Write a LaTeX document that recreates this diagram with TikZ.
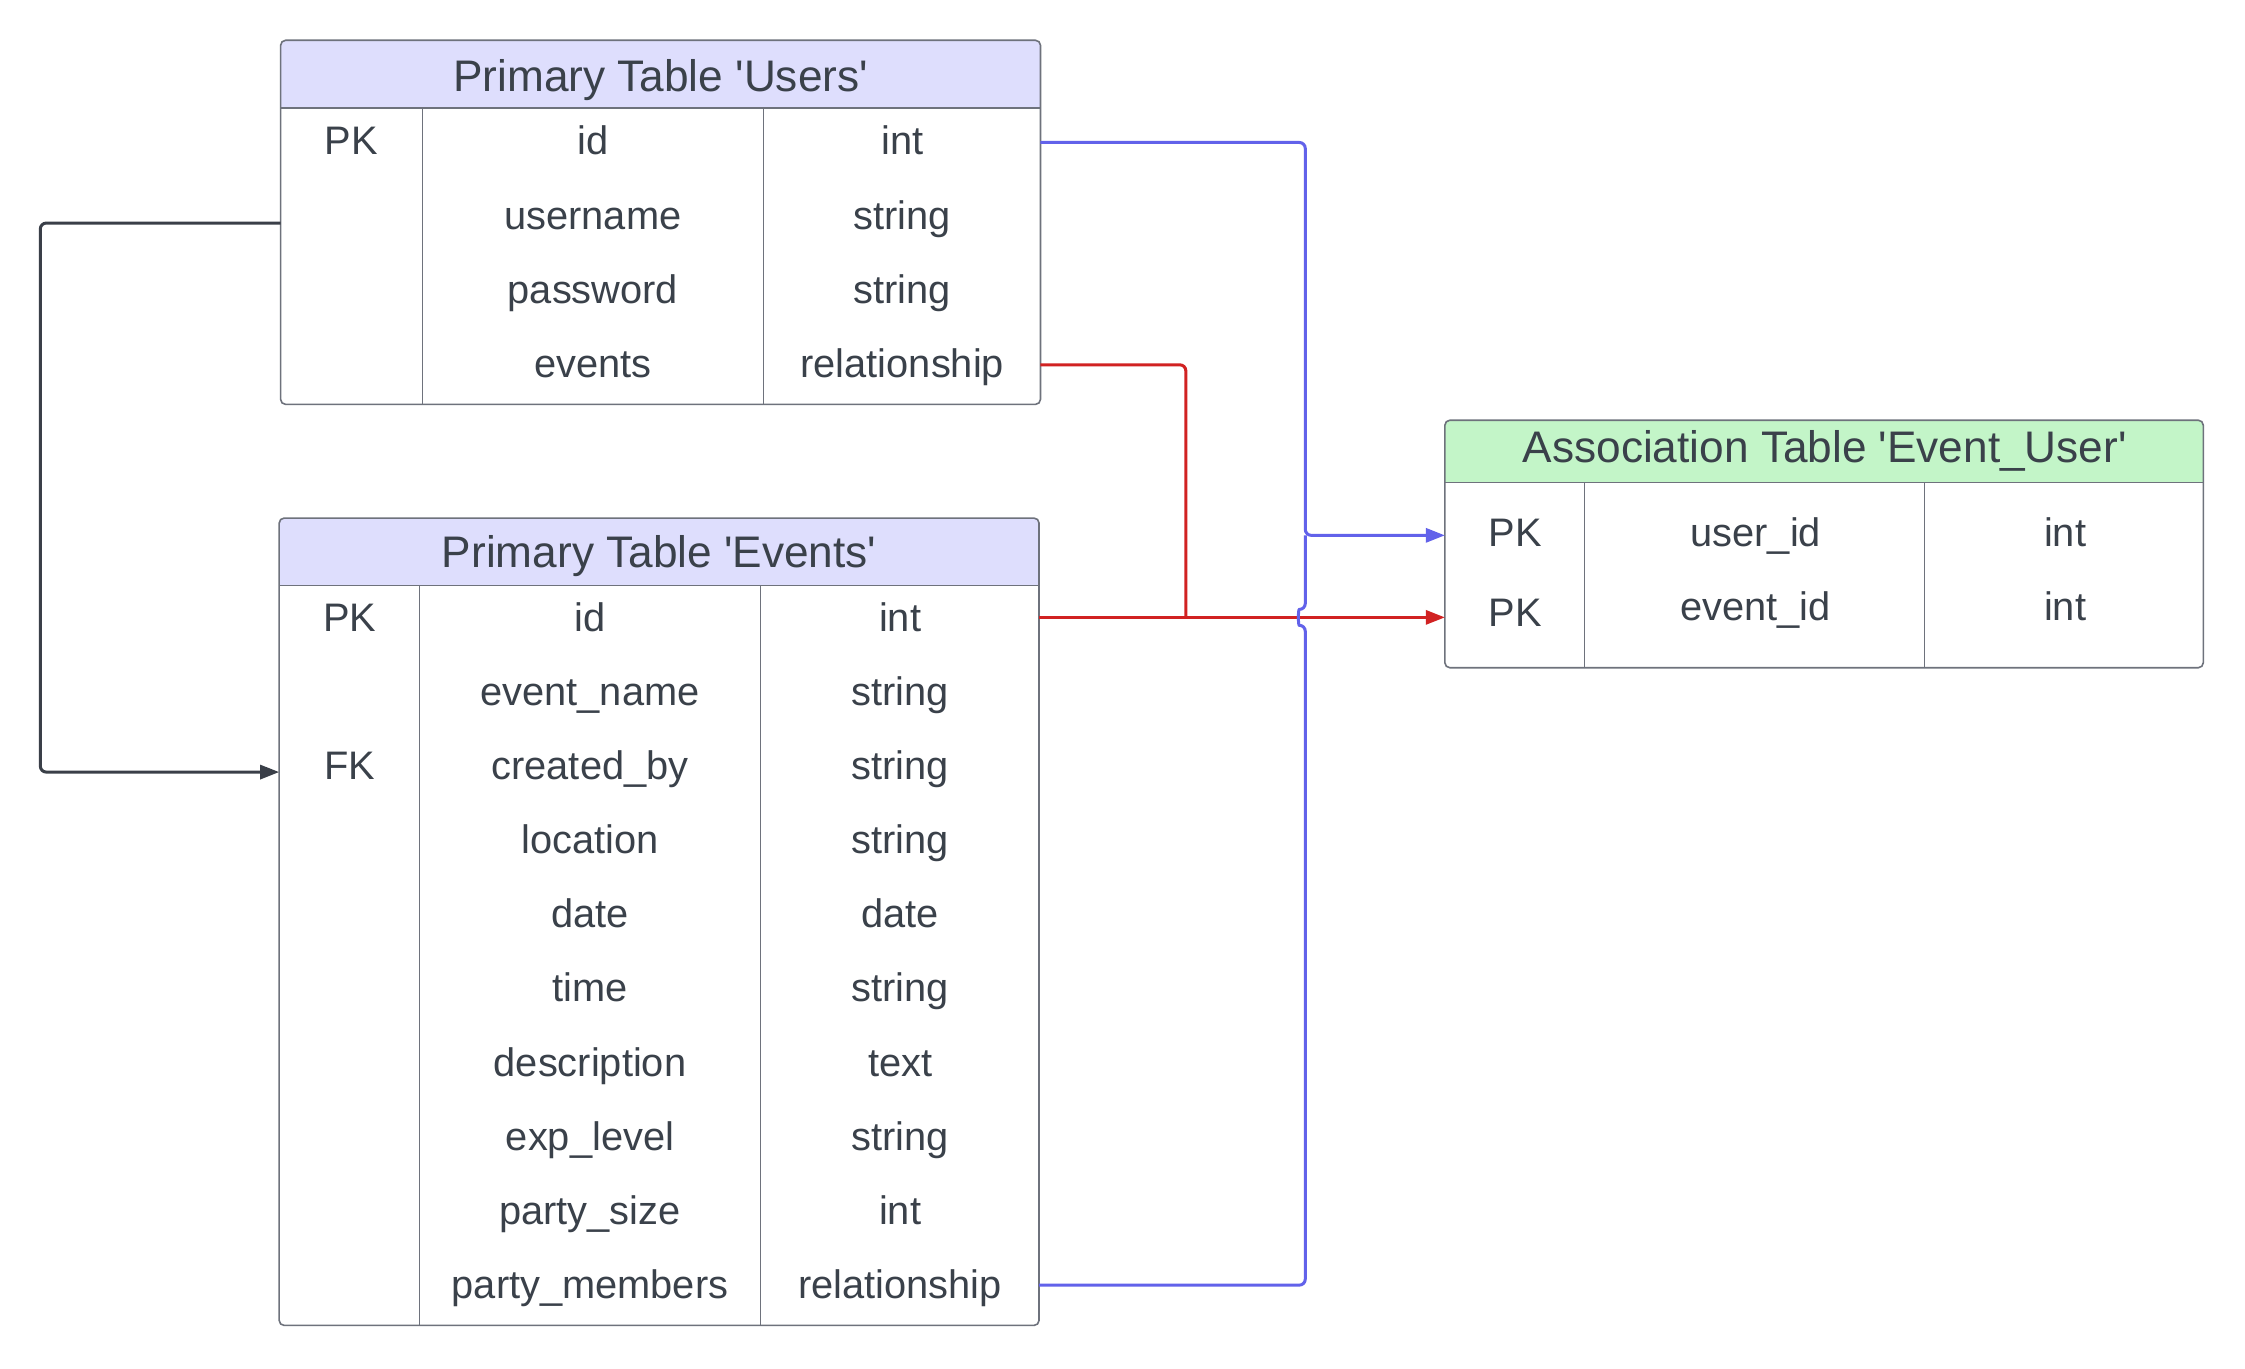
\documentclass[tikz,border=0pt]{standalone}
\usepackage{fontspec}
\setmainfont{Liberation Sans}
\usetikzlibrary{arrows.meta}
\definecolor{txt}{HTML}{3A414A}
\definecolor{hdrblue}{HTML}{DEDEFD}
\definecolor{hdrgreen}{HTML}{C3F5C8}
\definecolor{border}{HTML}{6E727C}
\definecolor{cblue}{HTML}{6262EA}
\definecolor{cred}{HTML}{D12222}
\definecolor{cdark}{HTML}{3A3F48}
\newcommand\sq{\textquotesingle}
\begin{document}
\begin{tikzpicture}[x=0.71955pt,y=-0.71955pt,
  cell/.style={font=\fontsize{19.9pt}{22pt}\selectfont, text=txt, anchor=base, inner sep=0pt},
  hdr/.style={font=\fontsize{22.1pt}{24pt}\selectfont, text=txt, anchor=base, inner sep=0pt},
  tbl/.style={draw=border, line width=0.8pt, rounded corners=2.5pt},
  colline/.style={draw=border, line width=0.5pt},
  wire/.style={line width=1.5pt, rounded corners=3pt},
  conn/.style={wire, -{Triangle[length=9.5pt,width=7pt]}}
]
\fill[white] (0,0) rectangle (1560,950.6);
\useasboundingbox (0,0) rectangle (1560,950.6);

% ---------- Users table ----------
\fill[white, rounded corners=2.5pt] (195,28) rectangle (723,281);
\begin{scope}
  \clip[rounded corners=2.5pt] (195,28) rectangle (723,281);
  \fill[hdrblue] (195,28) rectangle (723,75);
\end{scope}
\draw[border, line width=0.6pt] (195,75) -- (723,75);
\draw[colline] (293.5,75) -- (293.5,281);
\draw[colline] (530.5,75) -- (530.5,281);
\draw[tbl] (195,28) rectangle (723,281);
\node[hdr] (u-title) at (459,63.5) {Primary Table \sq Users\sq};
\node[cell] (u-k0) at (244,107.6) {PK};
\node[cell] (u-f0) at (412,107.6) {id};
\node[cell] (u-t0) at (627,107.6) {int};
\node[cell] (u-f1) at (412,159.2) {username};
\node[cell] (u-t1) at (627,159.2) {string};
\node[cell] (u-f2) at (412,210.8) {password};
\node[cell] (u-t2) at (627,210.8) {string};
\node[cell] (u-f3) at (412,262.4) {events};
\node[cell] (u-t3) at (627,262.4) {relationship};

% ---------- Events table ----------
\fill[white, rounded corners=2.5pt] (194,360) rectangle (722,921);
\begin{scope}
  \clip[rounded corners=2.5pt] (194,360) rectangle (722,921);
  \fill[hdrblue] (194,360) rectangle (722,407);
\end{scope}
\draw[border, line width=0.6pt] (194,407) -- (722,407);
\draw[colline] (291.5,407) -- (291.5,921);
\draw[colline] (528.5,407) -- (528.5,921);
\draw[tbl] (194,360) rectangle (722,921);
\node[hdr] (e-title) at (458,394.5) {Primary Table \sq Events\sq};
\node[cell] (e-k0) at (243,438.5) {PK};
\node[cell] (e-k2) at (243,541.7) {FK};
\foreach \f/\t [count=\i from 0] in {id/int, event\_name/string, created\_by/string, location/string, date/date, time/string, description/text, exp\_level/string, party\_size/int, party\_members/relationship}{
  \node[cell] (e-f\i) at (410,438.5+51.55*\i) {\f};
  \node[cell] (e-t\i) at (625.5,438.5+51.55*\i) {\t};
}

% ---------- Association table ----------
\fill[white, rounded corners=2.5pt] (1004,292) rectangle (1531,464);
\begin{scope}
  \clip[rounded corners=2.5pt] (1004,292) rectangle (1531,464);
  \fill[hdrgreen] (1004,292) rectangle (1531,335);
\end{scope}
\draw[border, line width=0.6pt] (1004,335) -- (1531,335);
\draw[colline] (1101,335) -- (1101,464);
\draw[colline] (1337,335) -- (1337,464);
\draw[tbl] (1004,292) rectangle (1531,464);
\node[hdr] (a-title) at (1268,321.5) {Association Table \sq Event\_User\sq};
\node[cell] (a-k0) at (1053,380) {PK};
\node[cell] (a-f0) at (1220,380) {user\_id};
\node[cell] (a-t0) at (1435,380) {int};
\node[cell] (a-k1) at (1053,435) {PK};
\node[cell] (a-f1) at (1220,431) {event\_id};
\node[cell] (a-t1) at (1435,431) {int};

% ---------- ports ----------
\coordinate (bk-s) at (195,155);
\coordinate (bk-e) at (194,536.5);
\coordinate (ub-s) at (723,99);
\coordinate (eb-s) at (722,893);
\coordinate (ab-e) at (1004,372);
\coordinate (ur-s) at (723,253.5);
\coordinate (er-s) at (722,429);
\coordinate (ar-e) at (1004,429);

% ---------- connectors ----------
\draw[conn, cdark] (bk-s) -- (28,155) -- (28,536.5) -- (bk-e);

\draw[wire, cred] (ur-s) -- (824,253.5) -- (824,429);
\draw[conn, cred] (er-s) -- (ar-e);

\draw[conn, cblue] (ub-s) -- (907,99) -- (907,372) -- (ab-e);
\draw[wire, cblue] (eb-s) -- (907,893) -- (907,434.5)
   .. controls (902,434.5) and (902,423.5) .. (907,423.5) -- (907,372);
\end{tikzpicture}
\end{document}
